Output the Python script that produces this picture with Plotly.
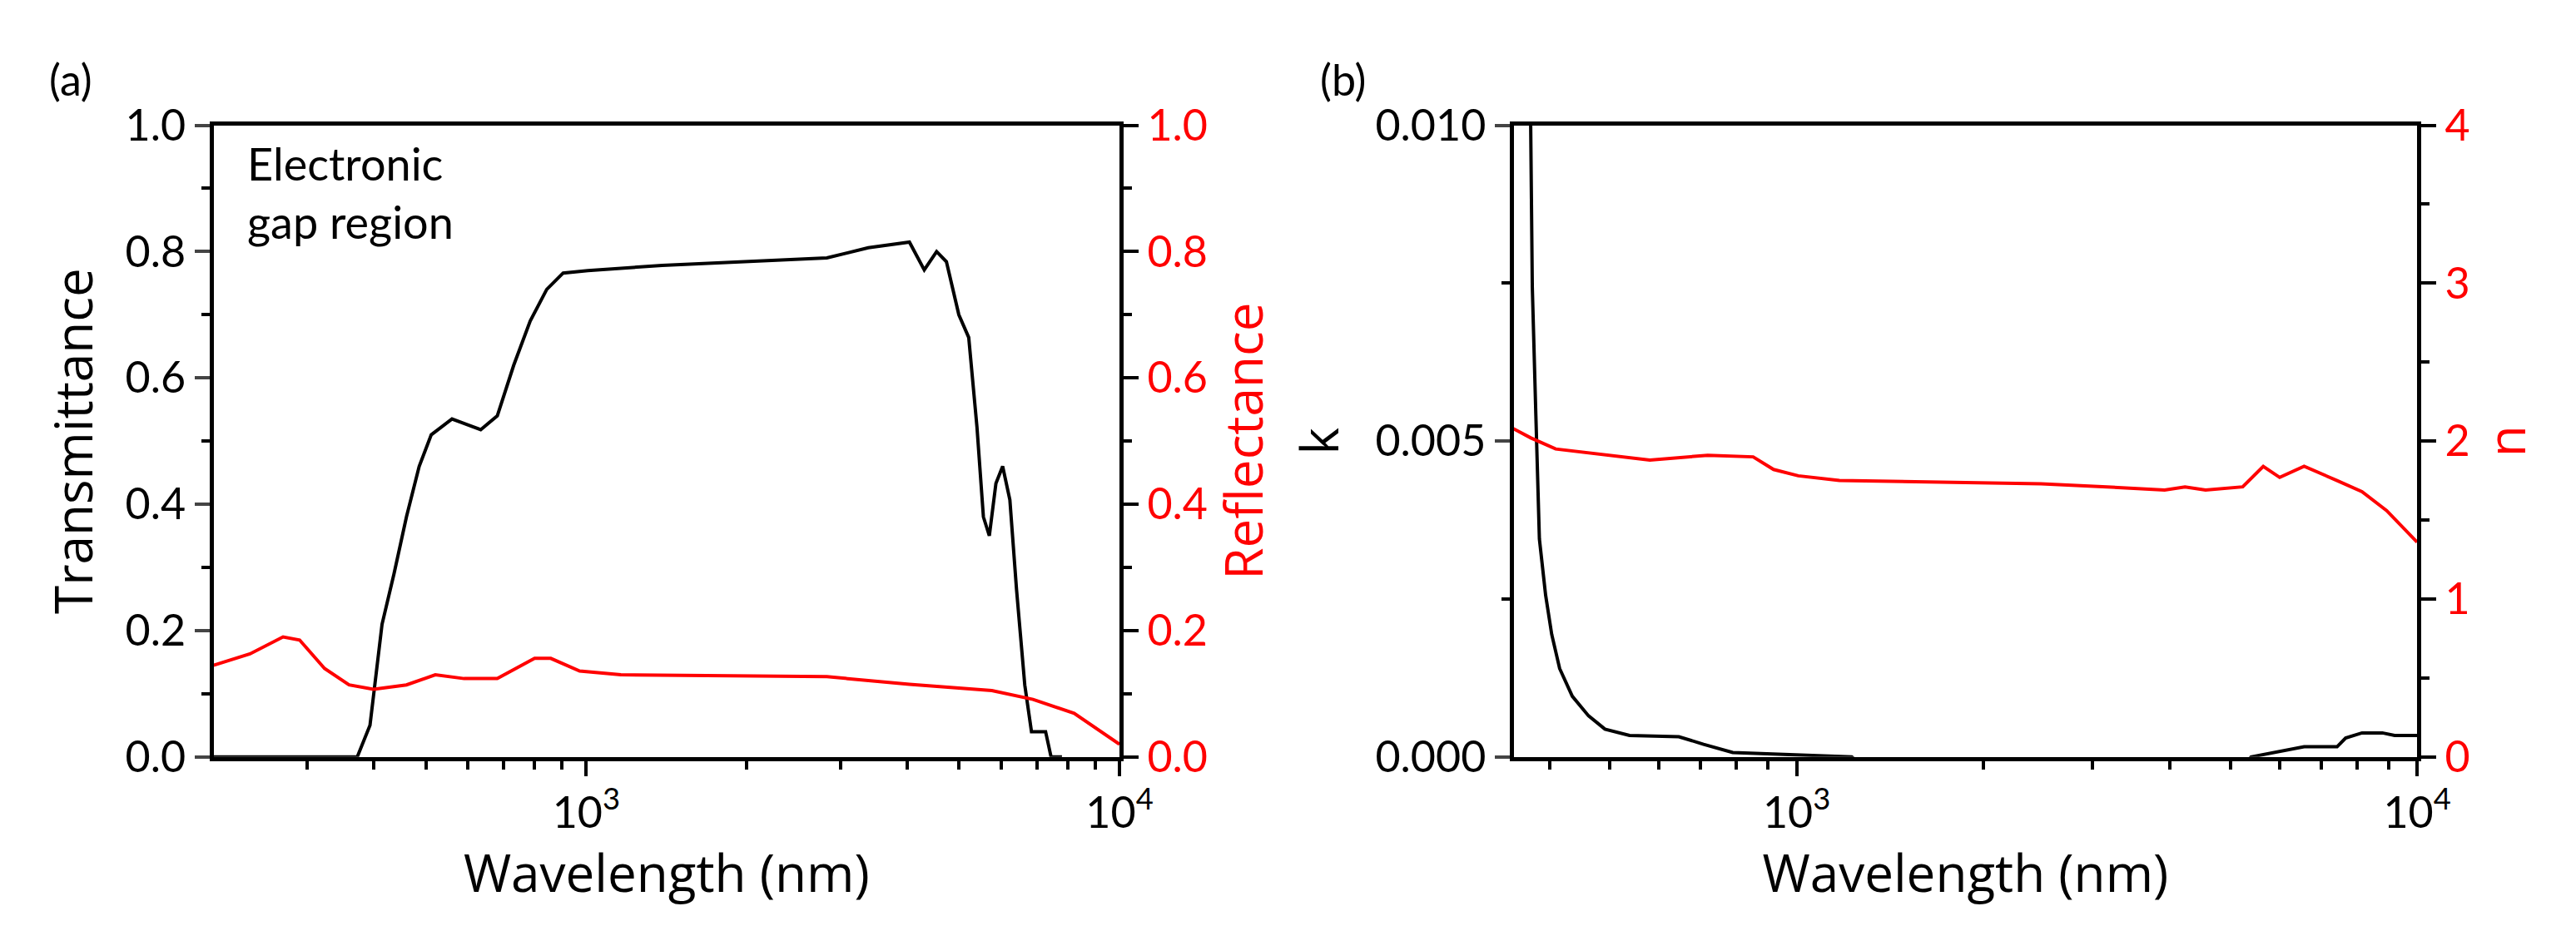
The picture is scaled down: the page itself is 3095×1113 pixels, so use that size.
import plotly.graph_objects as go

# ---- panel (a): transmittance & reflectance vs wavelength (nm)
t_wl = [200, 372, 393, 414, 436, 460, 486, 512, 560, 634, 681, 731, 785, 843, 905, 1007,
        1388, 1982, 2826, 3380, 4037, 4304, 4540, 4736, 4997, 5215, 5404, 5556, 5700,
        5865, 6038, 6229, 6411, 6643, 6838, 7268, 7441, 7800]
t_val = [0.0, 0.0, 0.05, 0.21, 0.29, 0.38, 0.46, 0.51, 0.535, 0.518, 0.54, 0.62, 0.69,
         0.74, 0.766, 0.77, 0.778, 0.784, 0.79, 0.806, 0.815, 0.771, 0.80, 0.784, 0.70,
         0.664, 0.522, 0.38, 0.35, 0.433, 0.46, 0.407, 0.265, 0.114, 0.04, 0.04, 0.0, 0.0]

r_wl = [200, 234, 270, 290, 323, 359, 399, 460, 521, 590, 681, 800, 858, 972, 1161,
        2826, 4037, 5762, 6882, 8221, 10000]
r_val = [0.145, 0.163, 0.19, 0.185, 0.14, 0.114, 0.107, 0.114, 0.13, 0.124, 0.124, 0.156,
         0.156, 0.136, 0.13, 0.127, 0.115, 0.105, 0.091, 0.069, 0.02]

# ---- panel (b): extinction coefficient k and refractive index n
k_wl = [371, 375, 380, 385, 394, 403, 415, 435, 462, 491, 538, 646, 708, 789, 1227,
        1300, 5200, 5400, 6575, 7430, 7670, 8150, 8790, 9200, 10000]
k_val = [0.012, 0.00744, 0.0054, 0.00345, 0.00256, 0.00194, 0.0014, 0.00096, 0.00065,
         0.00044, 0.00034, 0.00032, 0.0002, 0.00007, 0.0, -0.0002, -0.0002, 0.0, 0.00016,
         0.00016, 0.0003, 0.00038, 0.00038, 0.00034, 0.00034]

n_wl = [349, 373, 409, 476, 580, 719, 851, 918, 1006, 1172, 2476, 3163, 3918, 4226,
        4561, 5235, 5650, 6005, 6575, 7430, 8150, 8930, 10000]
n_val = [2.08, 2.02, 1.95, 1.92, 1.88, 1.91, 1.90, 1.82, 1.78, 1.75, 1.73, 1.71, 1.69,
         1.71, 1.69, 1.71, 1.84, 1.77, 1.84, 1.75, 1.68, 1.56, 1.36]

FONT = "Lato"
RED = "#ff0000"

fig = go.Figure()
fig.add_trace(go.Scatter(x=t_wl, y=t_val, mode="lines", line=dict(color="black", width=4),
                         xaxis="x", yaxis="y"))
fig.add_trace(go.Scatter(x=r_wl, y=r_val, mode="lines", line=dict(color=RED, width=4),
                         xaxis="x", yaxis="y2"))
fig.add_trace(go.Scatter(x=k_wl, y=k_val, mode="lines", line=dict(color="black", width=4),
                         xaxis="x2", yaxis="y3"))
fig.add_trace(go.Scatter(x=n_wl, y=n_val, mode="lines", line=dict(color=RED, width=4),
                         xaxis="x2", yaxis="y4"))

ydom = [0.1734, 0.8958]
tickfont = dict(family=FONT, size=52, color="black")
redfont = dict(family=FONT, size=52, color=RED)
titlefont = dict(family="Open Sans", size=62, color="black")
redtitle = dict(family="Open Sans", size=62, color=RED)
minor_y = dict(ticks="outside", ticklen=10, tickwidth=4, tickcolor="black")


def xax(dom, lo, hi, anchor, minors):
    return dict(domain=dom, type="log", range=[lo, hi], anchor=anchor,
                tickvals=[1000, 10000], ticktext=["10<sup>3</sup>", "10<sup>4</sup>"],
                ticks="outside", ticklen=18, tickwidth=4, tickcolor="black",
                minor=dict(tickvals=minors, ticks="outside", ticklen=10, tickwidth=4, tickcolor="black"),
                showline=True, linewidth=5, linecolor="black", mirror=True,
                showgrid=False, zeroline=False, tickfont=tickfont,
                title=dict(text="Wavelength (nm)", font=titlefont, standoff=10))


minors_a = [300, 400, 500, 600, 700, 800, 900, 2000, 3000, 4000, 5000, 6000, 7000, 8000, 9000]
minors_b = [400, 500, 600, 700, 800, 900, 2000, 3000, 4000, 5000, 6000, 7000, 8000, 9000]

fig.update_layout(
    width=3095, height=1113, showlegend=False,
    paper_bgcolor="white", plot_bgcolor="white",
    margin=dict(l=0, r=0, t=0, b=0),
    xaxis=xax([0.0814, 0.4378], 2.30103, 4, "y", minors_a),
    xaxis2=xax([0.5929, 0.9483], 2.5441, 4, "y3", minors_b),
    yaxis=dict(domain=ydom, range=[0, 1], anchor="x", tickvals=[0, 0.2, 0.4, 0.6, 0.8, 1.0],
               tickformat=".1f", ticks="outside", ticklen=18, tickwidth=4,
               minor=dict(dtick=0.1, **minor_y),
               showline=True, linewidth=5, linecolor="black", showgrid=False, zeroline=False,
               tickfont=tickfont, title=dict(text="Transmittance", font=titlefont, standoff=20)),
    yaxis2=dict(domain=ydom, range=[0, 1], anchor="x", overlaying="y", side="right",
                tickvals=[0, 0.2, 0.4, 0.6, 0.8, 1.0], tickformat=".1f",
                ticks="outside", ticklen=18, tickwidth=4, tickcolor="black",
                minor=dict(dtick=0.1, **minor_y),
                showline=True, linewidth=5, linecolor="black", showgrid=False, zeroline=False,
                tickfont=redfont, title=dict(text="Reflectance", font=redtitle, standoff=20)),
    yaxis3=dict(domain=ydom, range=[0, 0.01], anchor="x2", tickvals=[0, 0.005, 0.01],
                tickformat=".3f", ticks="outside", ticklen=18, tickwidth=4,
                minor=dict(dtick=0.0025, **minor_y),
                showline=True, linewidth=5, linecolor="black", showgrid=False, zeroline=False,
                tickfont=tickfont, title=dict(text="k", font=titlefont, standoff=25)),
    yaxis4=dict(domain=ydom, range=[0, 4], anchor="x2", overlaying="y3", side="right",
                tickvals=[0, 1, 2, 3, 4], ticks="outside", ticklen=18, tickwidth=4, tickcolor="black",
                minor=dict(dtick=0.5, **minor_y),
                showline=True, linewidth=5, linecolor="black", showgrid=False, zeroline=False,
                tickfont=redfont, title=dict(text="n", font=redtitle, standoff=25)),
    annotations=[
        dict(text="(a)", x=0.016, y=0.98, xref="paper", yref="paper", showarrow=False,
             xanchor="left", yanchor="top", font=dict(family=FONT, size=52, color="black")),
        dict(text="(b)", x=0.516, y=0.98, xref="paper", yref="paper", showarrow=False,
             xanchor="left", yanchor="top", font=dict(family=FONT, size=52, color="black")),
        dict(text="Electronic<br>gap region", x=0.094, y=0.885, xref="paper", yref="paper",
             showarrow=False, xanchor="left", yanchor="top", align="left",
             font=dict(family=FONT, size=54, color="black")),
    ],
)

fig.write_html("out.html")
